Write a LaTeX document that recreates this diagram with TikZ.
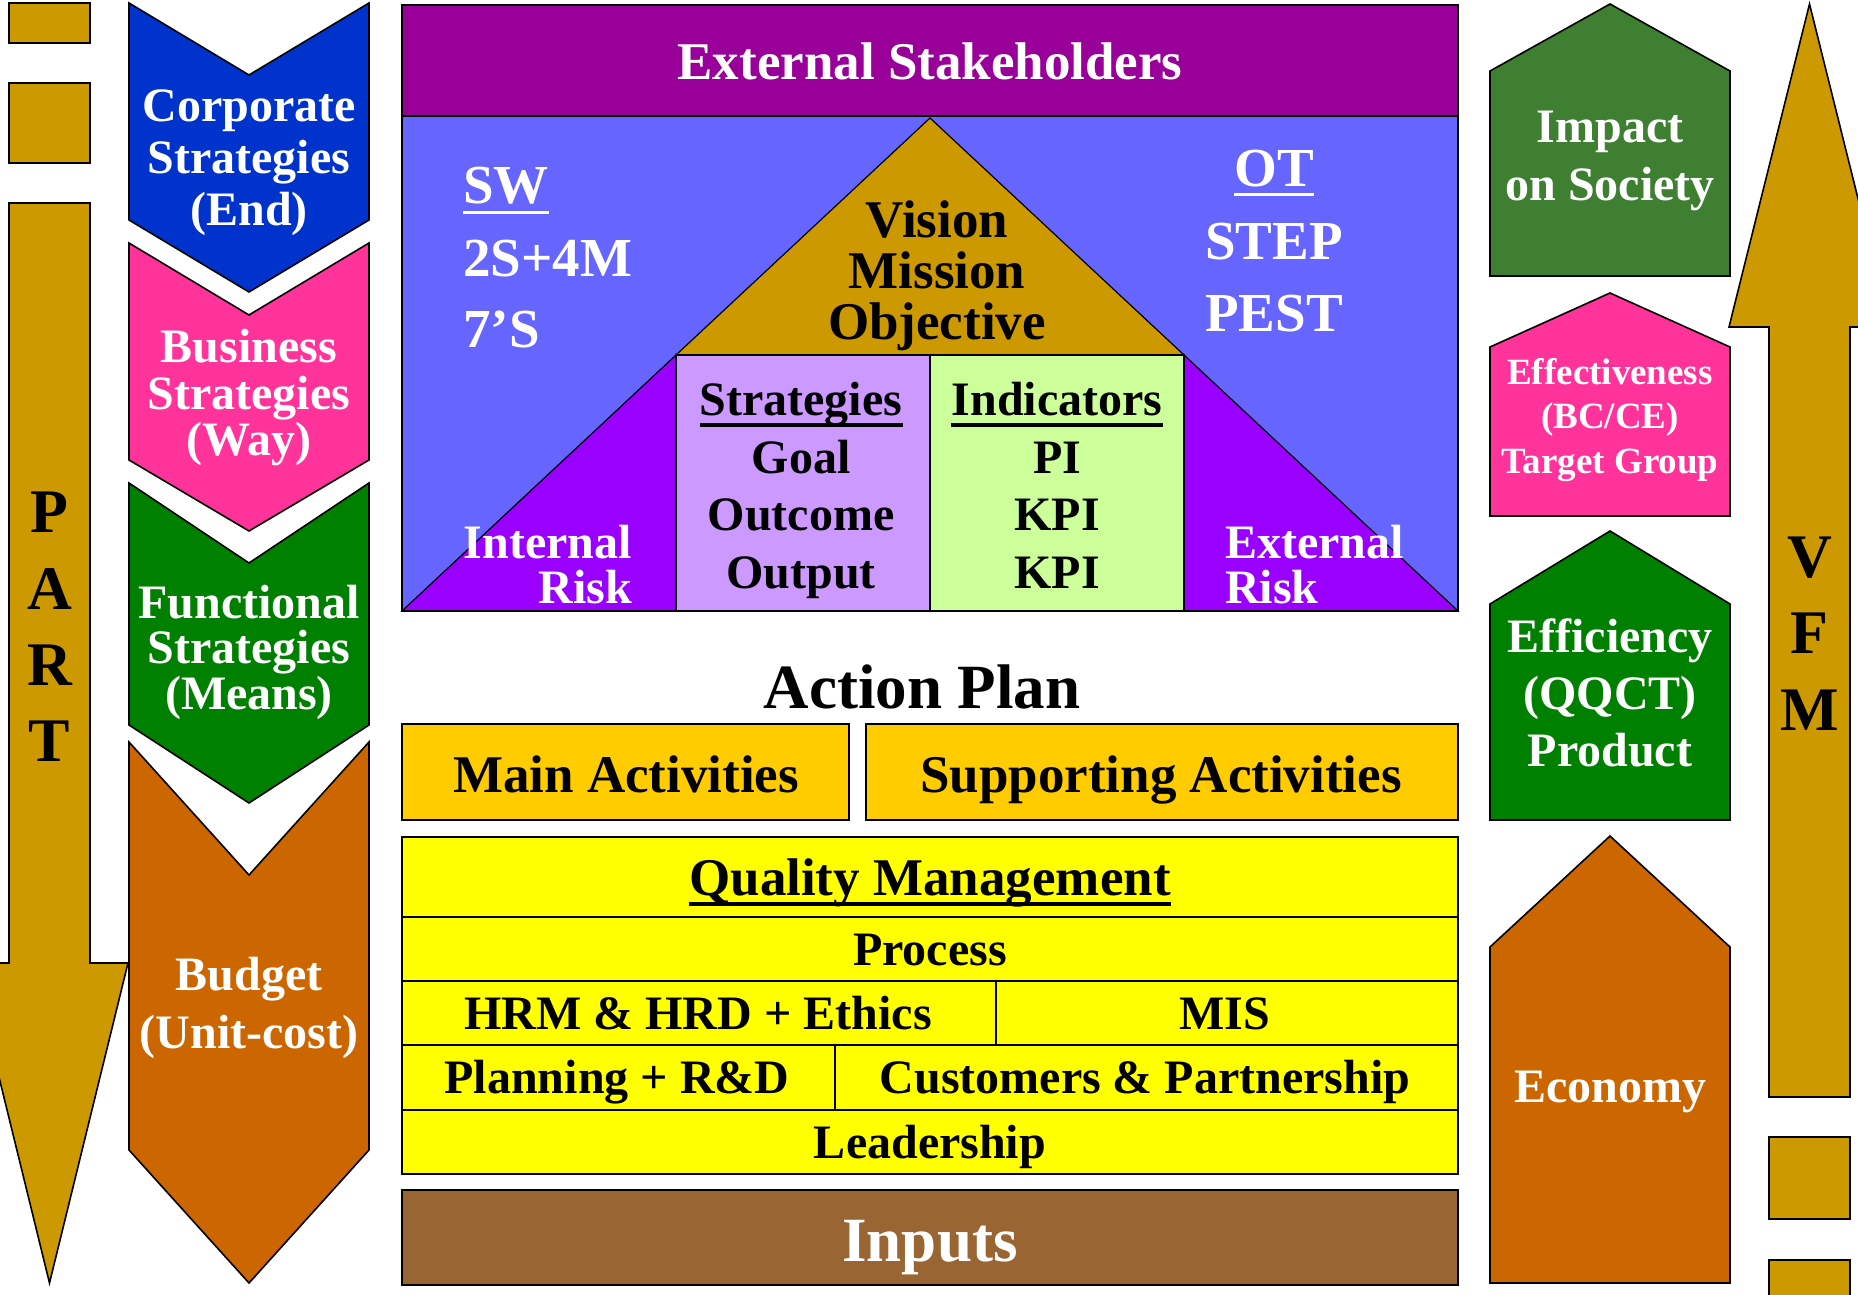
\documentclass[tikz,border=0pt]{standalone}
\usepackage{fontspec}
\setmainfont{Liberation Serif}
\definecolor{gold}{HTML}{CC9900}
\definecolor{corpblue}{HTML}{0033CC}
\definecolor{bizpink}{HTML}{FF3399}
\definecolor{fungreen}{HTML}{008000}
\definecolor{budorange}{HTML}{CC6600}
\definecolor{stakepurple}{HTML}{990099}
\definecolor{panelblue}{HTML}{6666FF}
\definecolor{riskviolet}{HTML}{9900FF}
\definecolor{lilac}{HTML}{CC99FF}
\definecolor{palegreen}{HTML}{CCFF99}
\definecolor{actorange}{HTML}{FFCC00}
\definecolor{qmyellow}{HTML}{FFFF00}
\definecolor{inbrown}{HTML}{996633}
\definecolor{socgreen}{HTML}{3E7F32}

\begin{document}
\begin{tikzpicture}[x=1pt,y=-1pt,
  every node/.style={inner sep=0pt},
  txt/.style 2 args={font=\bfseries\fontsize{#1}{#2}\selectfont, align=center},
  wt/.style={text=white},
  edge/.style={draw=black, line width=1.6pt},
  thin/.style={draw=black, line width=1.2pt}]
\useasboundingbox (0,0) rectangle (1858,1295);
\clip (0,0) rectangle (1858,1295);

% PART arrow on the left
\draw[edge, fill=gold] (9,3) rectangle (90,43);
\draw[edge, fill=gold] (9,83) rectangle (90,163);
\draw[edge, fill=gold] (9,203) -- (90,203) -- (90,963) -- (128,963) -- (49.5,1283) -- (-29,963) -- (9,963) -- cycle;
\node[txt={62}{76.3}] (part) at (49.5,627) {P\\A\\R\\T};

% strategy chevrons
\draw[edge, fill=corpblue] (129,3) -- (249,75) -- (369,3) -- (369,220) -- (249,292) -- (129,220) -- cycle;
\draw[edge, fill=bizpink] (129,243) -- (249,315) -- (369,243) -- (369,460) -- (249,531) -- (129,460) -- cycle;
\draw[edge, fill=fungreen] (129,483) -- (249,563) -- (369,483) -- (369,725) -- (249,803) -- (129,725) -- cycle;
\draw[edge, fill=budorange] (129,742) -- (249,875) -- (369,742) -- (369,1150) -- (249,1283) -- (129,1150) -- cycle;
\node[txt={48}{52}, wt] (corp) at (249,162.5) {Corporate\\Strategies\\(End)};
\node[txt={48}{46.5}, wt] (biz) at (249,398) {Business\\Strategies\\(Way)};
\node[txt={48}{45.5}, wt] (func) at (249,652) {Functional\\Strategies\\(Means)};
\node[txt={48}{58}, wt] (budg) at (249,1008) {Budget\\(Unit-cost)};

% stakeholders and the pyramid
\draw[edge, fill=stakepurple] (402,5) rectangle (1458,116);
\node[txt={53}{60}, wt, anchor=base] (stake) at (930,80) {External Stakeholders};
\fill[panelblue] (402,116) rectangle (1458,611);
\draw[thin, fill=riskviolet] (402,611) -- (676,355) -- (676,611) -- cycle;
\draw[thin, fill=riskviolet] (1458,611) -- (1184,355) -- (1184,611) -- cycle;
\draw[thin, fill=gold] (930,118) -- (1184,355) -- (676,355) -- cycle;
\draw[thin, fill=lilac] (676,355) rectangle (930,611);
\draw[thin, fill=palegreen] (930,355) rectangle (1184,611);
\draw[edge] (402,116) rectangle (1458,611);

\node[txt={55}{60}, wt, anchor=base west] (sw) at (463,204) {SW};
\node[txt={55}{60}, wt, anchor=base west] (sfm) at (463,276) {2S+4M};
\node[txt={55}{60}, wt, anchor=base west] (sevs) at (463,347) {7’S};
\draw[white, line width=3pt] ([yshift=-8pt]sw.base west) -- ([yshift=-8pt]sw.base east);
\node[txt={55}{60}, wt, anchor=base] (ot) at (1274,186) {OT};
\node[txt={55}{60}, wt, anchor=base] (step) at (1274,259) {STEP};
\node[txt={55}{60}, wt, anchor=base] (pest) at (1274,331) {PEST};
\draw[white, line width=3pt] ([yshift=-8pt]ot.base west) -- ([yshift=-8pt]ot.base east);

\node[txt={53}{60}, anchor=base] (vis) at (937,237) {Vision};
\node[txt={53}{60}, anchor=base] (mis) at (937,288) {Mission};
\node[txt={53}{60}, anchor=base] (obj) at (937,339) {Objective};

\node[txt={48}{52}, anchor=base] (strat) at (801,415) {Strategies};
\node[txt={48}{52}, anchor=base] (goal) at (801,473) {Goal};
\node[txt={48}{52}, anchor=base] (outc) at (801,530) {Outcome};
\node[txt={48}{52}, anchor=base] (outp) at (801,588) {Output};
\draw[line width=4pt] ([yshift=-10pt]strat.base west) -- ([yshift=-10pt]strat.base east);
\node[txt={48}{52}, anchor=base] (indic) at (1057,415) {Indicators};
\node[txt={48}{52}, anchor=base] (pi) at (1057,473) {PI};
\node[txt={48}{52}, anchor=base] (kpia) at (1057,530) {KPI};
\node[txt={48}{52}, anchor=base] (kpib) at (1057,588) {KPI};
\draw[line width=4pt] ([yshift=-10pt]indic.base west) -- ([yshift=-10pt]indic.base east);

\node[txt={48}{52}, wt, anchor=base east] (intl) at (632,558) {Internal};
\node[txt={48}{52}, wt, anchor=base east] (riska) at (632,603) {Risk};
\node[txt={48}{52}, wt, anchor=base west] (extl) at (1225,558) {External};
\node[txt={48}{52}, wt, anchor=base west] (riskb) at (1225,603) {Risk};

% action plan
\node[txt={63}{70}, anchor=base] (actp) at (922,708) {Action Plan};
\draw[edge, fill=actorange] (402,724) rectangle (849,820);
\draw[edge, fill=actorange] (866,724) rectangle (1458,820);
\node[txt={53}{60}, anchor=base] (mainact) at (626,792) {Main Activities};
\node[txt={53}{60}, anchor=base] (suppact) at (1161,792) {Supporting Activities};

% quality management block
\draw[edge, fill=qmyellow] (402,837) rectangle (1458,1174);
\draw[thin] (402,917) -- (1458,917);
\draw[thin] (402,981) -- (1458,981);
\draw[thin] (402,1045) -- (1458,1045);
\draw[thin] (402,1110) -- (1458,1110);
\draw[thin] (996,981) -- (996,1045);
\draw[thin] (835,1045) -- (835,1110);
\node[txt={53}{60}, anchor=base] (qm) at (930,895) {Quality Management};
\draw[line width=4pt] ([yshift=-9pt]qm.base west) -- ([yshift=-9pt]qm.base east);
\node[txt={48}{52}, anchor=base] (proc) at (930,965) {Process};
\node[txt={48}{52}, anchor=base] (hrm) at (698,1029) {HRM \& HRD + Ethics};
\node[txt={48}{52}, anchor=base] (mis) at (1225,1029) {MIS};
\node[txt={48}{52}, anchor=base] (plan) at (617,1093) {Planning + R\&D};
\node[txt={48}{52}, anchor=base] (cust) at (1145,1093) {Customers \& Partnership};
\node[txt={48}{52}, anchor=base] (lead) at (930,1158) {Leadership};

\draw[edge, fill=inbrown] (402,1190) rectangle (1458,1285);
\node[txt={63}{70}, wt, anchor=base] (inp) at (930,1261) {Inputs};

% value houses on the right
\draw[edge, fill=socgreen] (1490,276) -- (1490,71) -- (1610,4) -- (1730,71) -- (1730,276) -- cycle;
\draw[edge, fill=bizpink] (1490,516) -- (1490,347) -- (1610,293) -- (1730,347) -- (1730,516) -- cycle;
\draw[edge, fill=fungreen] (1490,820) -- (1490,604) -- (1610,531) -- (1730,604) -- (1730,820) -- cycle;
\draw[edge, fill=budorange] (1490,1283) -- (1490,947) -- (1610,836) -- (1730,947) -- (1730,1283) -- cycle;
\node[txt={48}{58}, wt] (imp) at (1610,161) {Impact\\on Society};
\node[txt={37}{44.5}, wt] (eff) at (1610,420) {Effectiveness\\(BC/CE)\\Target Group};
\node[txt={48}{57}, wt] (effc) at (1610,692.5) {Efficiency\\(QQCT)\\Product};
\node[txt={48}{52}, wt] (econ) at (1610,1092) {Economy};

% VFM arrow on the right
\draw[edge, fill=gold] (1769,1097) -- (1769,327) -- (1729,327) -- (1809.5,4) -- (1890,327) -- (1850,327) -- (1850,1097) -- cycle;
\draw[edge, fill=gold] (1769,1137) rectangle (1850,1219);
\draw[edge, fill=gold] (1769,1260) rectangle (1850,1320);
\node[txt={62}{76.5}] (vfm) at (1809.5,633.5) {V\\F\\M};
\end{tikzpicture}
\end{document}
